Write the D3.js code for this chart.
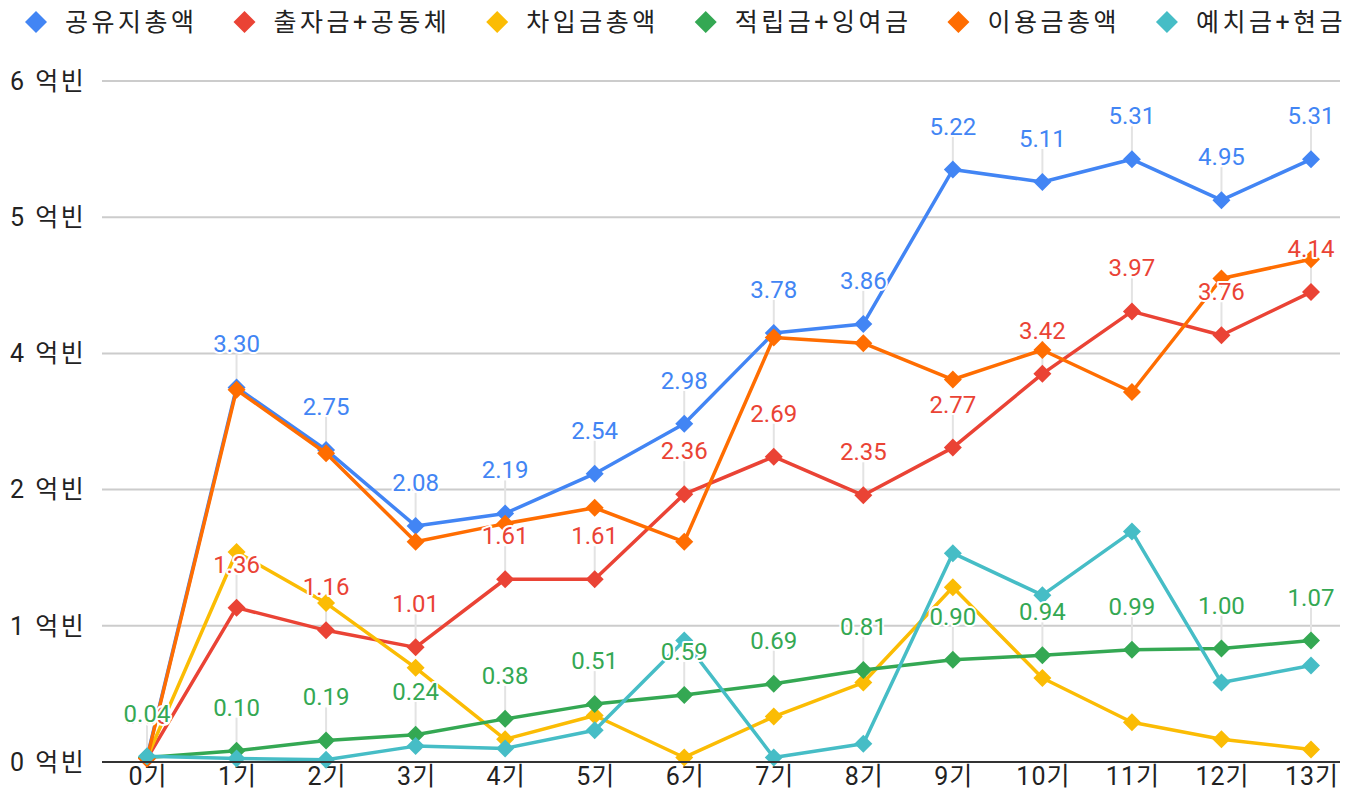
<!DOCTYPE html>
<html lang="ko">
<head>
<meta charset="UTF-8">
<title>공유지총액 추이</title>
<script src="https://d3js.org/d3.v7.min.js"></script>
<style>
  body { margin: 0; background: #fff; }
  svg { font-family: Roboto, "Noto Sans CJK KR", sans-serif; }
  .grid line { stroke: #cccccc; stroke-width: 2; }
  .tick-label { font-size: 25px; fill: #222; letter-spacing: 2.5px; }
  .x-label { font-size: 25px; fill: #222; letter-spacing: 1px; }
  .legend text { font-size: 25px; fill: #222; letter-spacing: 3.5px; }
  .dlabel { font-size: 24px; paint-order: stroke; stroke: #fff; stroke-width: 4px; stroke-linejoin: round; }
</style>
</head>
<body>
<svg id="chart" width="1363" height="808"></svg>
<script>
const categories = ["0기","1기","2기","3기","4기","5기","6기","7기","8기","9기","10기","11기","12기","13기"];

const seriesNames = ["공유지총액","출자금+공동체","차입금총액","적립금+잉여금","이용금총액","예치금+현금"];
const seriesColors = ["#4285F4","#EA4335","#FBBC04","#34A853","#FF6D01","#46BDC6"];

const land    = [0.04,3.30,2.75,2.08,2.19,2.54,2.98,3.78,3.86,5.22,5.11,5.31,4.95,5.31];
const capital = [0.03,1.36,1.16,1.01,1.61,1.61,2.36,2.69,2.35,2.77,3.42,3.97,3.76,4.14];
const loans   = [0.04,1.85,1.40,0.83,0.20,0.41,0.04,0.40,0.70,1.54,0.74,0.35,0.20,0.11];
const reserve = [0.04,0.10,0.19,0.24,0.38,0.51,0.59,0.69,0.81,0.90,0.94,0.99,1.00,1.07];
const usage   = [0.03,3.28,2.72,1.94,2.10,2.24,1.94,3.74,3.69,3.37,3.63,3.26,4.26,4.43];
const deposit = [0.05,0.03,0.02,0.14,0.12,0.28,1.07,0.04,0.16,1.84,1.47,2.03,0.70,0.85];

const yTicks = [0,1.2,2.4,3.6,4.8,6];
const yTickLabels = ["0 억빈","1 억빈","2 억빈","4 억빈","5 억빈","6 억빈"];

// which series get value labels
const labeled = [true,true,false,true,false,false];

const seriesValues = [land, capital, loans, reserve, usage, deposit];
const series = seriesNames.map((name, i) => ({
  name, color: seriesColors[i], values: seriesValues[i], labeled: labeled[i]
}));

const svg = d3.select("#chart");
const plotLeft = 102, plotRight = 1340;

const x = d3.scalePoint().domain(categories).range([147, 1311]);
const y = d3.scaleLinear().domain([0, 6]).range([762, 81]);

// gridlines
svg.append("g").attr("class", "grid")
  .selectAll("line")
  .data(yTicks.slice(1))
  .enter().append("line")
  .attr("x1", plotLeft).attr("x2", plotRight)
  .attr("y1", d => y(d)).attr("y2", d => y(d));

// y tick labels
svg.append("g")
  .selectAll("text")
  .data(yTicks)
  .enter().append("text")
  .attr("class", "tick-label")
  .attr("x", 10)
  .attr("y", d => y(d))
  .attr("dy", "0.35em")
  .text((d, i) => yTickLabels[i]);

// x labels
svg.append("g")
  .selectAll("text")
  .data(categories)
  .enter().append("text")
  .attr("class", "x-label")
  .attr("x", d => x(d) + 1)
  .attr("y", 776)
  .attr("dy", "0.35em")
  .attr("text-anchor", "middle")
  .text(d => d);

// leader lines for labels
const labelPoints = [];
series.forEach(s => {
  if (!s.labeled) return;
  s.values.forEach((v, i) => labelPoints.push({ cat: categories[i], v, color: s.color }));
});

svg.append("g")
  .selectAll("line")
  .data(labelPoints)
  .enter().append("line")
  .attr("x1", d => x(d.cat)).attr("x2", d => x(d.cat))
  .attr("y1", d => y(d.v) - 33).attr("y2", d => y(d.v))
  .attr("stroke", "#e3e3e3")
  .attr("stroke-width", 2);

// lines + markers
const line = d3.line()
  .x((d, i) => x(categories[i]))
  .y(d => y(d));

const diamond = "M0,-9L9,0L0,9L-9,0Z";

series.forEach(s => {
  const g = svg.append("g");
  g.append("path")
    .datum(s.values)
    .attr("d", line)
    .attr("fill", "none")
    .attr("stroke", s.color)
    .attr("stroke-width", 3.5)
    .attr("stroke-linejoin", "round");
  g.selectAll("path.pt")
    .data(s.values)
    .enter().append("path")
    .attr("class", "pt")
    .attr("d", diamond)
    .attr("fill", s.color)
    .attr("transform", (d, i) => `translate(${x(categories[i])},${y(d)})`);
});

// baseline
svg.append("line")
  .attr("x1", plotLeft).attr("x2", plotRight)
  .attr("y1", y(0)).attr("y2", y(0))
  .attr("stroke", "#333").attr("stroke-width", 2);

// data labels
svg.append("g")
  .selectAll("text")
  .data(labelPoints)
  .enter().append("text")
  .attr("class", "dlabel")
  .attr("x", d => x(d.cat))
  .attr("y", d => y(d.v) - 35)
  .attr("text-anchor", "middle")
  .attr("fill", d => d.color)
  .text(d => d3.format(".2f")(d.v));

// legend
const legend = svg.append("g").attr("class", "legend");
let lx = 36;
series.forEach(s => {
  const item = legend.append("g").attr("transform", `translate(${lx},22)`);
  item.append("path").attr("d", "M0,-11L11,0L0,11L-11,0Z").attr("fill", s.color);
  const t = item.append("text")
    .attr("x", 29).attr("dy", "0.35em")
    .text(s.name);
  lx += 29 + t.node().getComputedTextLength() + 47;
});
</script>
</body>
</html>
